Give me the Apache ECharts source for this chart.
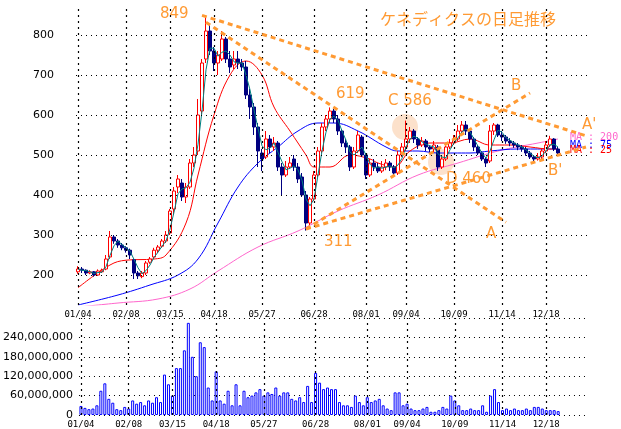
<!DOCTYPE html>
<html><head><meta charset="utf-8">
<script src="https://cdn.jsdelivr.net/npm/echarts@6/dist/echarts.min.js"></script>
<style>html,body{margin:0;background:#fff}#c{width:621px;height:429px}</style>
</head><body><div id="c"></div>
<script>
// daily bars sampled every 2 trading days: [open, close, low, high]
var candles = [
  [208,215,203,222],[215,212,205,220],[212,205,200,214],[205,208,202,212],[208,200,196,210],
  [200,210,198,214],[208,212,205,216],[215,240,212,250],[245,295,240,310],[295,285,278,300],
  [285,275,268,290],[275,268,262,280],[268,262,256,272],[262,250,240,266],[238,205,190,240],
  [205,198,190,210],[196,205,192,210],[205,230,200,235],[232,240,228,245],[245,262,240,268],
  [262,270,255,275],[272,285,268,290],[285,300,280,310],[305,360,300,365],[365,410,350,420],
  [420,440,405,450],[430,395,385,440],[395,420,380,430],[420,480,415,490],[480,500,470,520],
  [510,600,500,640],[610,730,600,740],[740,810,730,849],[810,760,750,830],[760,730,710,770],
  [730,750,700,760],[740,790,735,810],[790,740,730,795],[740,720,705,760],[725,740,715,760],
  [740,730,715,760],[730,720,710,740],[720,650,640,735],[650,620,590,665],[620,570,550,630],
  [570,510,470,580],[505,490,460,515],[495,540,490,560],[540,520,505,550],[520,530,510,545],
  [530,470,460,535],[470,450,400,480],[450,470,445,485],[470,480,465,495],[490,470,460,500],
  [470,440,430,480],[445,400,395,455],[400,330,311,410],[330,390,325,395],[390,450,385,460],
  [450,510,445,520],[510,570,505,580],[570,590,560,600],[590,610,580,619],[610,590,580,615],
  [590,560,550,600],[560,530,520,565],[530,520,505,540],[520,470,460,525],[470,510,465,520],
  [510,550,505,560],[545,500,495,550],[500,450,440,505],[450,480,445,490],[480,470,460,490],
  [470,460,455,480],[460,470,455,485],[470,480,462,490],[480,470,460,485],[470,455,445,475],
  [455,500,450,510],[500,520,495,530],[520,540,510,586],[540,560,530,570],[560,540,530,565],
  [540,525,515,545],[525,535,520,545],[535,520,510,540],[520,515,505,525],[515,525,505,535],
  [520,470,460,525],[470,490,465,500],[490,520,485,530],[520,530,515,540],[530,540,525,550],
  [540,560,535,575],[560,575,550,585],[575,560,550,585],[560,540,530,565],[540,520,510,545],
  [520,505,500,525],[505,490,485,510],[490,480,470,495],[485,560,480,575],[560,575,550,580],
  [575,550,545,578],[550,545,535,560],[545,535,528,550],[535,530,522,542],[530,525,518,535],
  [525,520,512,530],[520,515,508,525],[515,505,498,520],[505,495,490,510],[495,490,485,500],
  [490,495,486,505],[495,510,490,515],[510,525,505,535],[525,540,520,548],[540,515,510,542],
  [515,505,500,520]
];
// volume in millions of shares
var volumes = [
  28,22,18,20,30,75,98,50, 38,18,15,25,20, 45,35,40,30,45,38,55,40, 125,95,60,145,
  145,200,285,180,120, 225,210,85,45,135,
  45,35,75,30,95,30,75,55,60,70,80,60,70,65,85,60,70,70,50,45,55,40,90,40,130,100,
  80,85,80,80,40,30,
  30,25,60,40,30,55,40,45,50,30,20,15,70,70,30,35,20,15,15,20,
  25,10,10,15,25,20,60,45,30,15,15,20,15,15,30,10,60,80,40,
  15,20,15,20,15,15,20,15,25,25,20,15,15,15,12
];
// moving averages read at sample indices: [index, value]
var ma25 = [[0,168],[8,225],[12,237],[19,240],[22,250],[27,330],[30,450],[34,600],[38,700],[42,735],[46,700],[49,620],[53,560],[57,500],[59,470],[63,470],[68,500],[73,490],[75,480],[79,470],[83,510],[88,530],[93,530],[98,540],[103,525],[108,525],[113,520],[118,515],[120,515]];
var ma75 = [[0,125],[10,150],[18,175],[25,200],[30,240],[35,330],[40,420],[45,480],[50,520],[55,560],[60,580],[64,580],[70,560],[77,520],[80,510],[85,510],[90,505],[98,505],[103,510],[110,515],[118,515],[120,515]];
var ma200 = [[0,120],[10,130],[20,140],[28,165],[35,210],[45,270],[55,310],[65,360],[75,400],[85,450],[95,480],[105,510],[115,530],[120,540]];
var priceTicks = [200,300,400,500,600,700,800];
var dateTicks = [[0,'01/04'],[12,'02/08'],[23,'03/15'],[34,'04/18'],[46,'05/27'],[59,'06/28'],[72,'08/01'],[82,'09/04'],[94,'10/09'],[106,'11/14'],[117,'12/18']];

var orange = '#ff9a33';
var nCat = 128;
var cats = [];
for (var i = 0; i < nCat; i++) cats.push(String(i));
var tickMap = {};
dateTicks.forEach(function(d) { tickMap[d[0]] = d[1]; });
var ma5 = candles.map(function(c, i) {
  if (i < 2) return c[1];
  return Math.round((candles[i][1] + candles[i-1][1] + candles[i-2][1]) / 3);
});

var xLabel = { interval: function(i) { return tickMap[i] !== undefined; },
  formatter: function(v) { return tickMap[+v] || ''; },
  fontFamily: 'DejaVu Sans Mono', fontSize: 9, color: '#000', margin: 5 };
var dotted = { color: '#000', type: [1, 4], width: 1 };
var vDotted = { color: '#000', type: [2, 4], width: 1.2, opacity: 1 };
function vLines(lo, hi) {
  return dateTicks.map(function(d) { return [{ coord: [String(d[0]), lo] }, { coord: [String(d[0]), hi] }]; });
}
var smaStyle = function(col) {
  return { type: 'line', smooth: 0.4, showSymbol: false, lineStyle: { color: col, width: 1 }, itemStyle: { color: col } };
};
function seg(a, b) { return [{ coord: a }, { coord: b }]; }

var chart = echarts.init(document.getElementById('c'), null, { renderer: 'canvas' });
chart.setOption({
  animation: false,
  grid: [
    { left: 76, top: 5, width: 512, height: 300 },
    { left: 76, top: 318, width: 512, height: 100 }
  ],
  xAxis: [
    { type: 'category', gridIndex: 0, data: cats, boundaryGap: true,
      axisLine: { show: false }, axisTick: { show: false }, axisLabel: xLabel, splitLine: { show: false } },
    { type: 'category', gridIndex: 1, data: cats, boundaryGap: true,
      axisLine: { show: false }, axisTick: { show: false }, axisLabel: xLabel, splitLine: { show: false } }
  ],
  yAxis: [
    { type: 'value', gridIndex: 0, min: 125, max: 875, interval: 25,
      axisLine: { show: false }, axisTick: { show: false }, splitLine: { show: false },
      axisLabel: { fontFamily: 'DejaVu Sans', fontSize: 11, color: '#000', margin: 22,
        formatter: function(v) { return priceTicks.indexOf(v) >= 0 ? String(v) : ''; } } },
    { type: 'value', gridIndex: 1, min: 0, max: 300, interval: 60,
      axisLine: { show: false }, axisTick: { show: false },
      splitLine: { show: true, lineStyle: dotted },
      axisLabel: { fontFamily: 'DejaVu Sans', fontSize: 11, color: '#000', margin: 6,
        formatter: function(v) { return v === 0 ? '0' : (v <= 240 ? v + ',000,000' : ''); } } }
  ],
  series: [
    { type: 'candlestick', xAxisIndex: 0, yAxisIndex: 0, data: candles, barWidth: 3, z: 3,
      itemStyle: { color: '#ffffff', color0: '#000080', borderColor: '#ff0000', borderColor0: '#000080', borderWidth: 1 },
      markLine: { silent: true, symbol: 'none', label: { show: false }, lineStyle: dotted,
        data: priceTicks.map(function(v) { return { yAxis: v }; }) } },
    { type: 'line', xAxisIndex: 0, yAxisIndex: 0, data: [], z: 1, markLine: {
        silent: true, symbol: 'none', label: { show: false }, lineStyle: vDotted, data: vLines(125, 875) } },
    { type: 'line', xAxisIndex: 0, yAxisIndex: 0, data: [], z: 5, markLine: {
        silent: true, symbol: 'none', label: { show: false },
        lineStyle: { color: orange, type: [5, 4], width: 3 },
        data: [
          seg([30.5, 849], [127, 548]),
          seg([31.5, 832], [106.5, 332]),
          seg([56.5, 315], [112.5, 655]),
          seg([56.5, 315], [127, 520])
        ] } },
    Object.assign(smaStyle('#ff66cc'), { data: ma200 }),
    Object.assign(smaStyle('#0000ff'), { data: ma75 }),
    Object.assign(smaStyle('#ff0000'), { data: ma25 }),
    { type: 'line', data: ma5, showSymbol: false, z: 4, lineStyle: { color: '#008080', width: 1 }, itemStyle: { color: '#008080' } },
    { type: 'bar', xAxisIndex: 1, yAxisIndex: 1, data: volumes, barWidth: 3,
      itemStyle: { color: '#ffffff', borderColor: '#0000ff', borderWidth: 1 } },
    { type: 'line', xAxisIndex: 1, yAxisIndex: 1, data: [], markLine: {
        silent: true, symbol: 'none', label: { show: false }, lineStyle: vDotted, data: vLines(0, 300) } }
  ],
  graphic: [
    { type: 'circle', shape: { cx: 405, cy: 127, r: 13 }, style: { fill: 'rgba(250,200,160,0.55)' }, z: 1 },
    { type: 'circle', shape: { cx: 441, cy: 162, r: 13 }, style: { fill: 'rgba(250,200,160,0.55)' }, z: 1 },
    { type: 'text', left: 380, top: 11, style: { text: 'ケネディクスの日足推移', fill: orange, font: '16px "Noto Sans CJK JP"' } },
    { type: 'text', left: 160, top: 7, style: { text: '849', fill: orange, font: '15px "DejaVu Sans"' } },
    { type: 'text', left: 336, top: 87, style: { text: '619', fill: orange, font: '15px "DejaVu Sans"' } },
    { type: 'text', left: 388, top: 94, style: { text: 'C 586', fill: orange, font: '15px "DejaVu Sans"' } },
    { type: 'text', left: 446, top: 172, style: { text: 'D 460', fill: orange, font: '15px "DejaVu Sans"' } },
    { type: 'text', left: 324, top: 235, style: { text: '311', fill: orange, font: '15px "DejaVu Sans"' } },
    { type: 'text', left: 486, top: 227, style: { text: 'A', fill: orange, font: '15px "DejaVu Sans"' } },
    { type: 'text', left: 511, top: 79, style: { text: 'B', fill: orange, font: '15px "DejaVu Sans"' } },
    { type: 'text', left: 582, top: 118, style: { text: "A'", fill: orange, font: '15px "DejaVu Sans"' } },
    { type: 'text', left: 548, top: 164, style: { text: "B'", fill: orange, font: '15px "DejaVu Sans"' } },
    { type: 'text', left: 570, top: 132, style: { text: 'MA : 200', fill: '#ff66cc', font: '10px "DejaVu Sans Mono"' } },
    { type: 'text', left: 570, top: 140, style: { text: 'MA : 75', fill: '#0000ff', font: '10px "DejaVu Sans Mono"' } },
    { type: 'text', left: 570, top: 145, style: { text: 'MA : 25', fill: '#ff0000', font: '10px "DejaVu Sans Mono"' } }
  ]
});
</script>
</body></html>
